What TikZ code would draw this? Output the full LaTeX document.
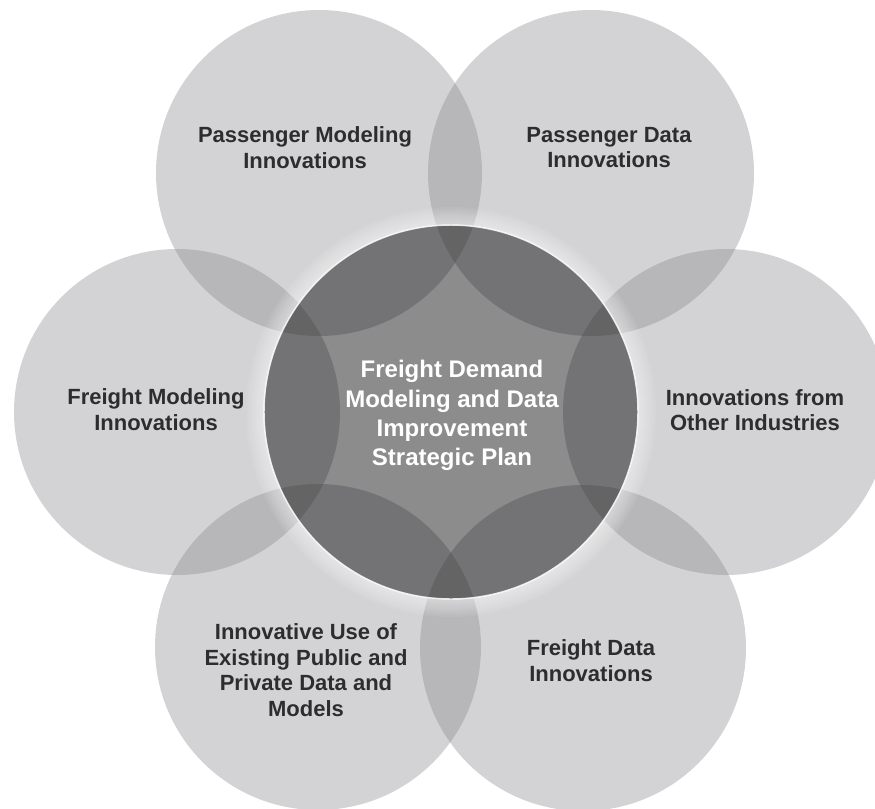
\documentclass[tikz,border=0pt]{standalone}
\usepackage{fontspec}
\setmainfont{Liberation Sans}
\definecolor{outergray}{RGB}{130,130,134}
\definecolor{labelgray}{RGB}{45,45,47}
\begin{document}
\begin{tikzpicture}[x=0.75pt,y=-0.75pt,
  outer/.style={fill=outergray, fill opacity=0.35},
  inner/.style={fill=black, fill opacity=0.45},
  lbl/.style={text=labelgray, font=\bfseries\fontsize{16.5}{19.2}\selectfont, align=center, inner sep=0pt},
  clbl/.style={text=white, font=\bfseries\fontsize{18}{21.9}\selectfont, align=center, inner sep=0pt}]
\useasboundingbox (0,0) rectangle (875,808);
\clip (0,0) rectangle (875,808);
\coordinate (C) at (451,412);
\coordinate (TL) at (319,173);
\coordinate (TR) at (591,173);
\coordinate (L) at (177,412);
\coordinate (R) at (726,412);
\coordinate (BL) at (318,647);
\coordinate (BR) at (583,648);
% outer circles
\foreach \p in {TL,TR,L,R,BL,BR}
  \fill[outer] (\p) circle (122.25pt);
% glow around the central circle
\foreach \k in {2,4,...,18} {
  \pgfmathsetmacro\rr{(187+\k)*0.75}
  \fill[white, fill opacity=0.06, even odd rule] (C) circle (\rr pt) (C) circle (140.25pt);
}
% central circle
\fill[inner] (C) circle (140.25pt);
\draw[white, line width=1.1pt, opacity=0.85] (C) circle (140.25pt);
% labels
\node[lbl] (tpm) at (305,147.5) {Passenger Modeling\\Innovations};
\node[lbl] (tpd) at (609,147.5) {Passenger Data\\Innovations};
\node[lbl] (tfm) at (156,409.5) {Freight Modeling\\Innovations};
\node[lbl] (tio) at (755,410) {Innovations from\\Other Industries};
\node[lbl] (tiu) at (306,670) {Innovative Use of\\Existing Public and\\Private Data and\\Models};
\node[lbl] (tfd) at (591,660.5) {Freight Data\\Innovations};
\node[clbl] (tc) at (452,415.5) {Freight Demand\\Modeling and Data\\Improvement\\Strategic Plan};
\end{tikzpicture}
\end{document}
